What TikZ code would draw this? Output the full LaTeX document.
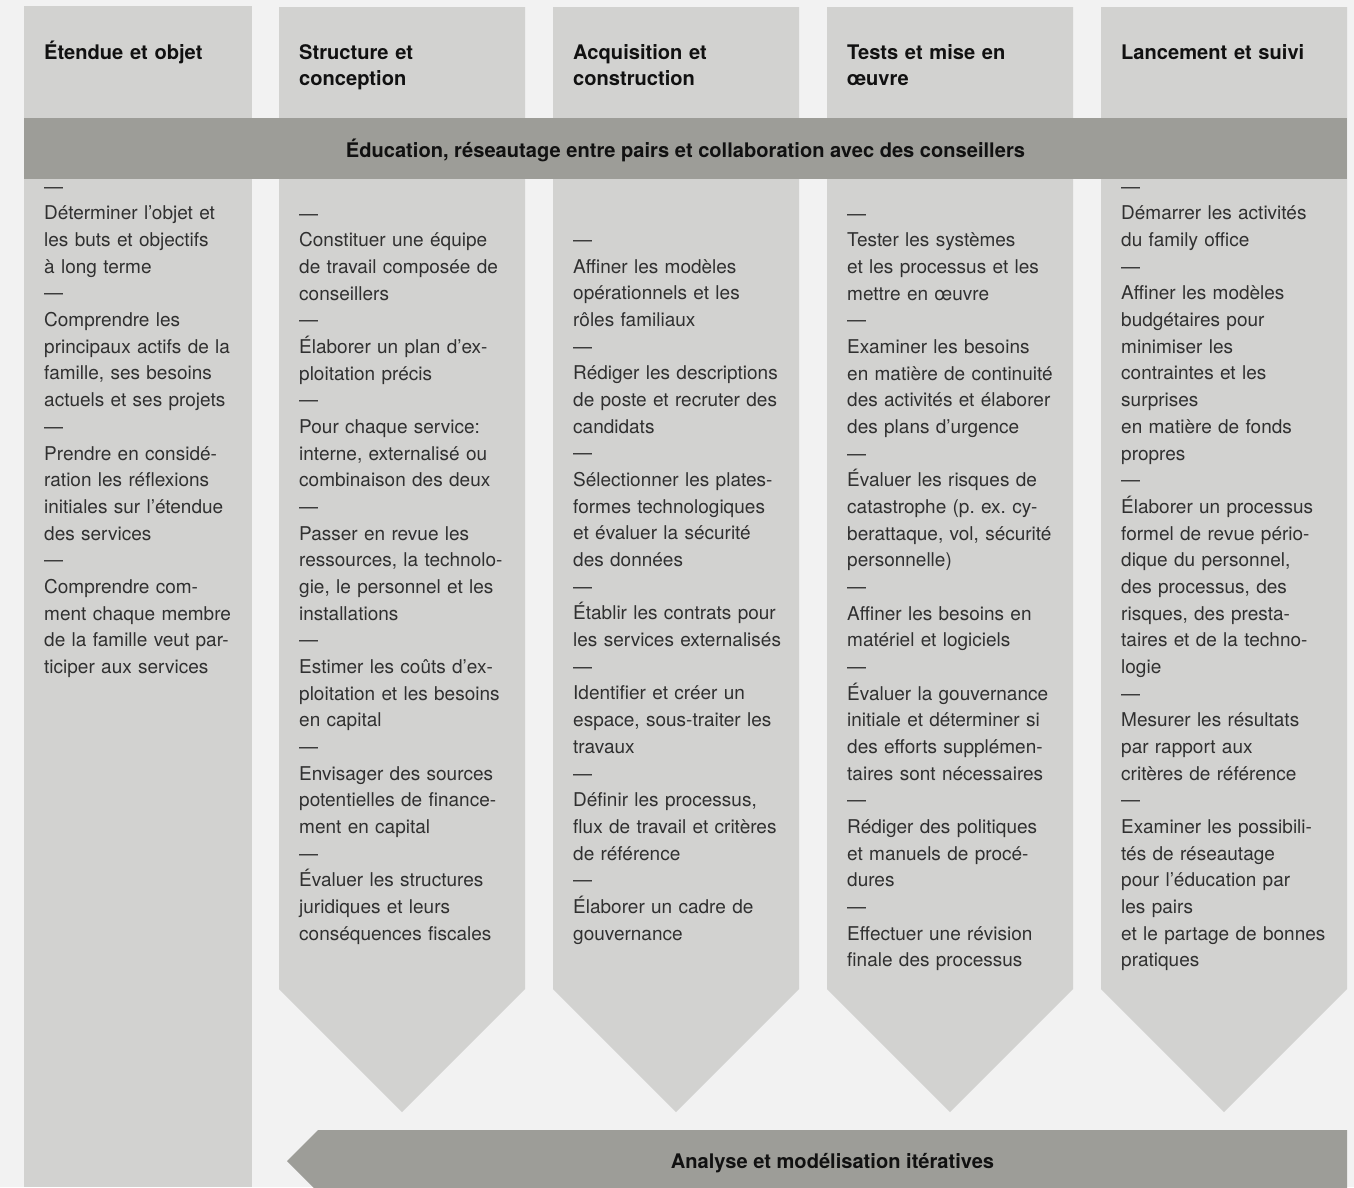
\documentclass[tikz,border=0pt]{standalone}
\usepackage{fontspec}
\setmainfont{TeX Gyre Heros}
\frenchspacing
\definecolor{bgc}{HTML}{F2F2F2}
\definecolor{colc}{HTML}{D2D2D0}
\definecolor{bandc}{HTML}{9D9D98}
\definecolor{bodyc}{HTML}{303030}
\definecolor{headc}{HTML}{111111}
\tikzset{
  colbox/.style={fill=colc, draw=none},
  bandbox/.style={fill=bandc, draw=none},
  headtext/.style={anchor=base west, inner sep=0pt, align=left, text width=230pt, text=headc, font=\fontsize{20.1}{26.67}\selectfont\bfseries\frenchspacing},
  bodytext/.style={anchor=base west, inner sep=0pt, align=left, text width=300pt, text=bodyc, font=\fontsize{19}{26.67}\selectfont\frenchspacing},
  bandtext/.style={anchor=base, inner sep=0pt, text=headc, font=\fontsize{20.1}{24}\selectfont\bfseries}
}
\begin{document}
\begin{tikzpicture}[x=1pt, y=-1pt]
\useasboundingbox (0,0) rectangle (1354,1187);
\fill[bgc] (0,0) rectangle (1354,1187);
% columns
\fill[colbox] (24,6) rectangle (252,1187);
\foreach \L in {279,553,827,1101}{
  \fill[colbox] (\L,7) -- (\L+246,7) -- (\L+246,989) -- (\L+123,1112) -- (\L,989) -- cycle;
}
% top band
\fill[bandbox] (24,118) rectangle (1347,179);
\node[bandtext] (band1) at (685.5,157) {Éducation, réseautage entre pairs et collaboration avec des conseillers};
% bottom arrow
\fill[bandbox] (318,1130) -- (1347,1130) -- (1347,1192) -- (318,1192) -- (287,1161) -- cycle;
\node[bandtext] (band2) at (832.5,1168) {Analyse et modélisation itératives};
% headers
\node[headtext] (h1) at (44,59) {Étendue et objet};
\node[headtext] (h2) at (299,59) {Structure et\\conception};
\node[headtext] (h3) at (573,59) {Acquisition et\\construction};
\node[headtext] (h4) at (847,59) {Tests et mise en\\œuvre};
\node[headtext] (h5) at (1121,59) {Lancement et suivi};
% bodies
\node[bodytext] (b1) at (44,193.3) {—\\Déterminer l’objet et\\les buts et objectifs\\à long terme\\—\\Comprendre les\\principaux actifs de la\\famille, ses besoins\\actuels et ses projets\\—\\Prendre en considé-\\ration les réflexions\\initiales sur l’étendue\\des services\\—\\Comprendre com-\\ment chaque membre\\de la famille veut par-\\ticiper aux services};
\node[bodytext] (b2) at (299,220) {—\\Constituer une équipe\\de travail composée de\\conseillers\\—\\Élaborer un plan d’ex-\\ploitation précis\\—\\Pour chaque service:\\interne, externalisé ou\\combinaison des deux\\—\\Passer en revue les\\ressources, la technolo-\\gie, le personnel et les\\installations\\—\\Estimer les coûts d’ex-\\ploitation et les besoins\\en capital\\—\\Envisager des sources\\potentielles de finance-\\ment en capital\\—\\Évaluer les structures\\juridiques et leurs\\conséquences fiscales};
\node[bodytext] (b3) at (573,246.6) {—\\Affiner les modèles\\opérationnels et les\\rôles familiaux\\—\\Rédiger les descriptions\\de poste et recruter des\\candidats\\—\\Sélectionner les plates-\\formes technologiques\\et évaluer la sécurité\\des données\\—\\Établir les contrats pour\\les services externalisés\\—\\Identifier et créer un\\espace, sous-traiter les\\travaux\\—\\Définir les processus,\\flux de travail et critères\\de référence\\—\\Élaborer un cadre de\\gouvernance};
\node[bodytext] (b4) at (847,220) {—\\Tester les systèmes\\et les processus et les\\mettre en œuvre\\—\\Examiner les besoins\\en matière de continuité\\des activités et élaborer\\des plans d’urgence\\—\\Évaluer les risques de\\catastrophe (p. ex. cy-\\berattaque, vol, sécurité\\personnelle)\\—\\Affiner les besoins en\\matériel et logiciels\\—\\Évaluer la gouvernance\\initiale et déterminer si\\des efforts supplémen-\\taires sont nécessaires\\—\\Rédiger des politiques\\et manuels de procé-\\dures\\—\\Effectuer une révision\\finale des processus};
\node[bodytext] (b5) at (1121,193.3) {—\\Démarrer les activités\\du family office\\—\\Affiner les modèles\\budgétaires pour\\minimiser les\\contraintes et les\\surprises\\en matière de fonds\\propres\\—\\Élaborer un processus\\formel de revue pério-\\dique du personnel,\\des processus, des\\risques, des presta-\\taires et de la techno-\\logie\\—\\Mesurer les résultats\\par rapport aux\\critères de référence\\—\\Examiner les possibili-\\tés de réseautage\\pour l’éducation par\\les pairs\\et le partage de bonnes\\pratiques};
\end{tikzpicture}
\end{document}
